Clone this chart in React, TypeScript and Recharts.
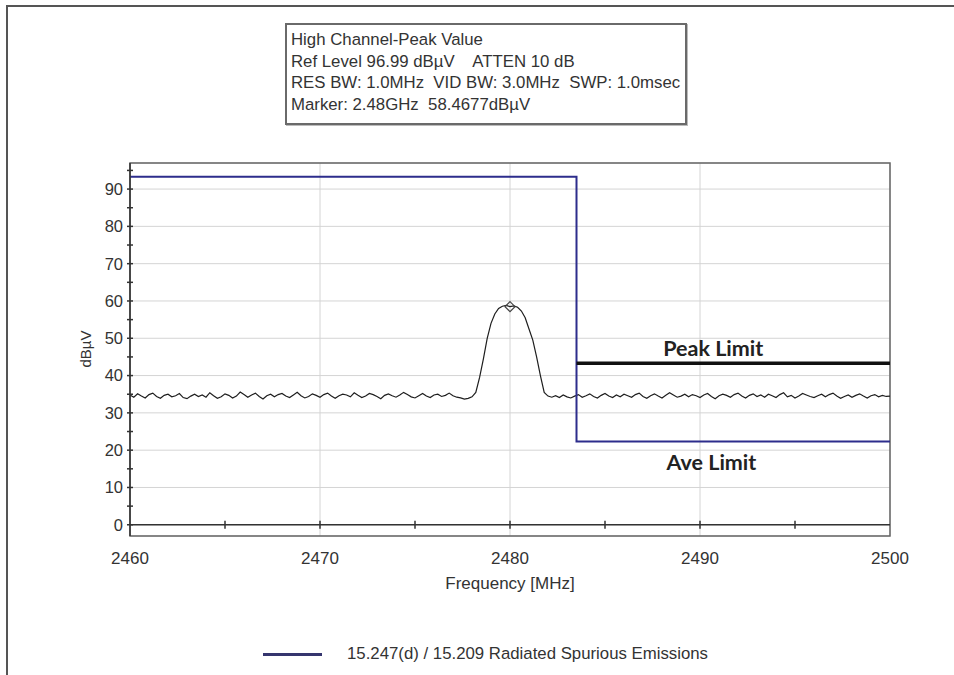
import React from 'react';
import {
  ComposedChart, Line, Scatter, XAxis, YAxis, CartesianGrid,
  ReferenceLine, ReferenceArea, ReferenceDot,
} from 'recharts';

// ---- data ----
const SWEEP_START = 2460; // MHz
const SWEEP_STEP = 0.2; // MHz per sweep point

const noiseBelow = [
  34.8, 34.2, 35.1, 34.5, 34.0, 34.9, 35.3, 34.4, 33.9, 34.7,
  35.0, 34.3, 34.6, 35.2, 34.1, 33.8, 34.5, 35.0, 34.4, 34.8,
  34.2, 35.4, 34.6, 33.9, 34.3, 35.1, 34.7, 34.0, 34.5, 35.6,
  34.9, 34.2, 34.8, 35.3, 34.4, 33.7, 34.6, 35.0, 34.3, 34.9,
  35.2, 34.5, 34.1, 34.8, 35.5, 34.6, 34.0, 34.4, 35.1, 34.7,
  34.2, 34.9, 35.3, 34.5, 33.9, 34.6, 35.0, 34.8, 34.3, 35.4,
  34.7, 34.1, 34.5, 35.2, 34.9, 34.4, 33.8, 34.7, 35.1, 34.6,
  34.2, 34.8, 35.5, 34.9, 34.3, 34.0, 34.6, 35.2, 34.5, 34.1,
  34.8, 35.0, 34.4, 34.7, 35.3, 34.6, 34.2, 34.0, 33.7, 33.9,
];
const peakLevels = [
  34.3, 35.5, 39.5, 44.5, 50.0, 54.0, 56.5, 58.0, 58.6, 58.8,
  58.47, 58.7, 58.3, 57.3, 55.5, 52.5, 49.5, 45.0, 40.0, 35.5, 34.5,
];
const noiseAbove = [
  34.2, 34.6, 34.1, 34.8, 34.3, 34.0, 34.5, 34.9, 34.2, 34.6,
  35.1, 34.4, 34.0, 34.7, 35.2, 34.5, 34.1, 34.8, 34.3, 35.0,
  34.6, 34.2, 34.9, 35.3, 34.4, 33.9, 34.6, 35.1, 34.5, 34.0,
  34.7, 35.4, 34.8, 34.2, 34.5, 35.0, 34.3, 34.9, 34.6, 34.1,
  34.8, 35.2, 34.4, 33.8, 34.6, 35.0, 34.7, 34.2, 34.9, 35.3,
  34.5, 34.0, 34.7, 35.1, 34.4, 34.8, 34.2, 35.0, 34.6, 34.1,
  34.9, 35.4, 34.3, 34.7, 34.0, 34.5, 35.2, 34.8, 34.4, 34.1,
  34.6, 35.0, 34.3, 34.9, 35.3, 34.5, 33.9, 34.4, 34.8, 34.2,
  34.7, 35.1, 34.5, 34.0, 34.6, 34.9, 34.3, 34.7, 34.4, 34.5,
];

const limitFreqs = [2460, 2483.5, 2483.5, 2500];
const limitLevels = [93.3, 93.3, 22.3, 22.3];
const peakLimitFreqs = [2483.5, 2500];
const peakLimitLevels = [43.3, 43.3];

const markerFreq = 2480;
const markerLevel = 58.4677;

const xTickLabels = [2460, 2470, 2480, 2490, 2500];
const xMinorTicks = [2465, 2470, 2475, 2480, 2485, 2490, 2495];
const yTickLabels = [0, 10, 20, 30, 40, 50, 60, 70, 80, 90];
const yMinorTicks = [0, 5, 10, 15, 20, 25, 30, 35, 40, 45, 50, 55, 60, 65, 70, 75, 80, 85, 90, 95];

const Y_MIN = -3.01;
const Y_MAX = 96.99;

const headerLines = [
  'High Channel-Peak Value',
  'Ref Level 96.99 dBµV    ATTEN 10 dB',
  'RES BW: 1.0MHz  VID BW: 3.0MHz  SWP: 1.0msec',
  'Marker: 2.48GHz  58.4677dBµV',
];
const legendLabel = '15.247(d) / 15.209 Radiated Spurious Emissions';

// ---- built tables ----
const traceLevels = [...noiseBelow, ...peakLevels, ...noiseAbove];
const traceData = traceLevels.map((v, i) => ({ f: +(SWEEP_START + i * SWEEP_STEP).toFixed(1), v }));
const limitData = limitFreqs.map((f, i) => ({ f, v: limitLevels[i] }));
const peakLimitData = peakLimitFreqs.map((f, i) => ({ f, v: peakLimitLevels[i] }));
const markerData = [{ f: markerFreq, v: markerLevel }];
const yTickMarkData = yMinorTicks.map((v) => ({ f: SWEEP_START, v }));
const xTickMarkData = xMinorTicks.map((f) => ({ f, v: 0 }));

const FONT = '"Liberation Sans", Arial, sans-serif';

const HTick = (p: any) => (
  <line x1={p.cx - 3} x2={p.cx + 3} y1={p.cy} y2={p.cy} stroke="#333" strokeWidth={1.5} />
);
const VTick = (p: any) => (
  <line x1={p.cx} x2={p.cx} y1={p.cy - 4} y2={p.cy + 4} stroke="#333" strokeWidth={1.5} />
);
const Diamond = (p: any) => (
  <polygon
    points={`${p.cx},${p.cy - 5} ${p.cx + 5},${p.cy} ${p.cx},${p.cy + 5} ${p.cx - 5},${p.cy}`}
    fill="none"
    stroke="#444"
    strokeWidth={1.2}
  />
);

export default function App() {
  return (
    <div style={{ position: 'absolute', left: 0, top: 0, width: 954, height: 675, background: '#fff', overflow: 'hidden', fontFamily: FONT }}>
      <div style={{ position: 'absolute', left: 6, top: 5, width: 960, height: 680, borderTop: '2px solid #555', borderLeft: '2px solid #555' }} />
      <div style={{ position: 'absolute', left: 0, top: 0 }}>
        <ComposedChart width={954} height={675} margin={{ top: 163, right: 64, bottom: 109, left: 90 }}>
          <CartesianGrid stroke="#d4d4d4" strokeWidth={1} />
          <XAxis
            dataKey="f"
            type="number"
            domain={[2460, 2500]}
            ticks={xTickLabels}
            height={30}
            axisLine={false}
            tickLine={false}
            tickSize={6}
            tickMargin={10}
            tick={{ fill: '#333', fontSize: 17, fontFamily: FONT }}
            label={{ value: 'Frequency [MHz]', position: 'bottom', offset: 11, fill: '#333', fontSize: 17, fontFamily: FONT }}
          />
          <YAxis
            type="number"
            domain={[Y_MIN, Y_MAX]}
            allowDataOverflow
            ticks={yTickLabels}
            width={40}
            axisLine={{ stroke: '#333', strokeWidth: 1.5 }}
            tickLine={false}
            tickSize={4}
            tickMargin={3}
            tick={{ fill: '#333', fontSize: 16.5, fontFamily: FONT }}
            label={{
              content: () => (
                <text transform="translate(91,349) rotate(-90)" textAnchor="middle" fill="#333" fontSize={15} fontFamily={FONT}>dBµV</text>
              ),
            }}
          />
          <ReferenceArea x1={2460} x2={2500} y1={Y_MIN} y2={Y_MAX} fill="none" stroke="#666" strokeWidth={1.5} ifOverflow="visible" />
          <ReferenceLine y={0} stroke="#333" strokeWidth={1.5} />
          <Scatter data={yTickMarkData} dataKey="v" shape={HTick} isAnimationActive={false} />
          <Scatter data={xTickMarkData} dataKey="v" shape={VTick} isAnimationActive={false} />
          <Line data={traceData} dataKey="v" stroke="#1e1e1e" strokeWidth={1.2} dot={false} isAnimationActive={false} />
          <Line data={limitData} dataKey="v" stroke="#2d2d8c" strokeWidth={2} dot={false} isAnimationActive={false} />
          <Line data={peakLimitData} dataKey="v" stroke="#111" strokeWidth={3.5} dot={false} isAnimationActive={false} />
          <Scatter data={markerData} dataKey="v" shape={Diamond} isAnimationActive={false} />
          <ReferenceDot x={2490.7} y={47.4} r={0} fill="none" stroke="none"
            label={{ value: 'Peak Limit', position: 'center', fill: '#222', fontSize: 21.5, fontWeight: 700, fontFamily: 'Lato, sans-serif' }} />
          <ReferenceDot x={2490.6} y={16.6} r={0} fill="none" stroke="none"
            label={{ value: 'Ave Limit', position: 'center', fill: '#222', fontSize: 21.5, fontWeight: 700, fontFamily: 'Lato, sans-serif' }} />
        </ComposedChart>
      </div>
      <div style={{ position: 'absolute', left: 285, top: 23, width: 394, height: 94, border: '2px solid #6a6a6a', background: '#fff', boxShadow: '1px 1px 0 #bbb', padding: '4px 0 0 4px', boxSizing: 'content-box' }}>
        {headerLines.map((t, i) => (
          <div key={i} style={{ fontSize: 16.8, lineHeight: '21.5px', color: '#333', whiteSpace: 'pre' }}>{t}</div>
        ))}
      </div>
      <div style={{ position: 'absolute', left: 263, top: 653, width: 59, height: 3, background: '#35356e' }} />
      <div style={{ position: 'absolute', left: 347, top: 644, fontSize: 16.8, lineHeight: '20px', color: '#333', whiteSpace: 'pre' }}>{legendLabel}</div>
    </div>
  );
}
